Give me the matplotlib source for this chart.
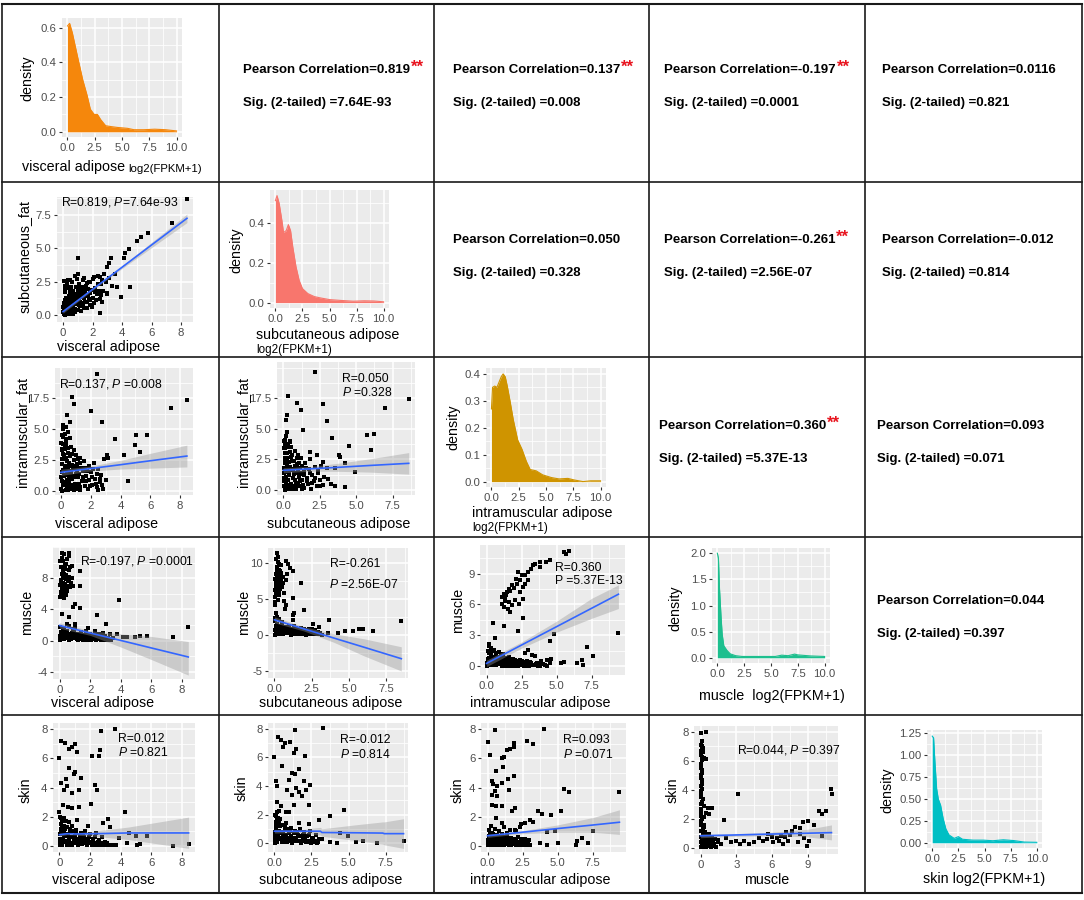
import numpy as np
import matplotlib.pyplot as plt
from matplotlib.lines import Line2D
from matplotlib.ticker import AutoMinorLocator

plt.rcParams['font.family'] = ['Liberation Sans', 'DejaVu Sans']
plt.rcParams['mathtext.fontset'] = 'custom'
plt.rcParams['mathtext.rm'] = 'Liberation Sans'
plt.rcParams['mathtext.it'] = 'Liberation Sans:italic'

W, H = 1084, 900

# ---------------- data ----------------
# density curves (x in log2(FPKM+1), y density)
vis_dx = [0, 0.2, 0.45, 0.9, 1.4, 1.8, 2.1, 2.45, 2.75, 3.05, 3.5, 4.0, 4.6, 5.5, 6.1, 7.0, 8.0, 9.0, 10.0]
vis_dy = [0.61, 0.625, 0.57, 0.44, 0.30, 0.21, 0.13, 0.10, 0.10, 0.07, 0.035, 0.03, 0.025, 0.02, 0.012, 0.012, 0.015, 0.012, 0.005]
sub_dx = [0, 0.15, 0.35, 0.6, 0.75, 1.0, 1.2, 1.4, 1.6, 1.9, 2.2, 2.5, 3.0, 3.6, 4.2, 5.0, 6.0, 7.2, 8.2, 9.1, 10.0]
sub_dy = [0.51, 0.535, 0.495, 0.41, 0.35, 0.36, 0.39, 0.36, 0.28, 0.18, 0.11, 0.07, 0.045, 0.03, 0.023, 0.015, 0.011, 0.007, 0.009, 0.008, 0.004]
imf_dx = [0, 0.1, 0.3, 0.5, 0.7, 0.9, 1.07, 1.26, 1.45, 1.7, 2.0, 2.4, 2.8, 3.2, 3.55, 4.1, 4.7, 5.5, 6.2, 7.0, 7.6, 8.4, 9.1, 10.0]
imf_dy = [0.27, 0.35, 0.355, 0.35, 0.37, 0.39, 0.40, 0.39, 0.355, 0.30, 0.23, 0.155, 0.12, 0.075, 0.045, 0.04, 0.025, 0.015, 0.01, 0.012, 0.006, 0.0, 0.003, 0.003]
mus_dx = [0, 0.1, 0.2, 0.35, 0.45, 0.6, 0.9, 1.2, 1.7, 2.3, 3.8, 5.4, 6.0, 6.6, 7.2, 7.5, 8.1, 8.7, 10.0]
mus_dy = [2.0, 1.9, 1.32, 0.76, 0.45, 0.23, 0.14, 0.075, 0.04, 0.025, 0.025, 0.025, 0.05, 0.04, 0.07, 0.055, 0.045, 0.035, 0.025]
skin_dx = [0, 0.13, 0.26, 0.42, 0.58, 0.8, 1.04, 1.3, 1.6, 2.1, 2.5, 2.9, 3.9, 4.9, 5.8, 6.8, 7.8, 8.8, 10.0]
skin_dy = [1.22, 1.2, 0.92, 0.62, 0.50, 0.43, 0.28, 0.16, 0.09, 0.05, 0.07, 0.04, 0.03, 0.03, 0.023, 0.034, 0.025, 0.008, 0.005]

# scatter points (x, y) per panel
s21_pts = [(8.42, 8.7), (7.41, 6.88), (5.74, 6.13), (5.29, 5.88), (5.0, 5.58), (4.48, 4.93), (4.21, 4.63),
           (3.27, 4.3), (0.99, 4.25), (4.14, 4.25), (3.65, 2.13), (4.55, 2.13), (3.92, 1.38), (3.54, 3.08),
           (2.97, 3.63), (3.09, 3.88), (2.52, 2.88), (2.07, 2.88), (1.85, 2.5), (1.4, 2.75), (0.95, 2.68),
           (0.5, 2.63), (0.05, 2.58), (2.52, 0.13), (2.97, 1.63), (2.63, 1.0), (2.3, 1.63), (1.85, 1.13),
           (1.5, 1.88), (1.17, 1.63),
           (0.05, 0.1), (0.1, 0.3), (0.15, 0.6), (0.2, 0.2), (0.25, 0.9), (0.3, 0.45), (0.35, 1.2), (0.4, 0.15),
           (0.45, 0.7), (0.5, 1.5), (0.55, 0.35), (0.6, 1.0), (0.65, 1.8), (0.7, 0.55), (0.75, 1.3), (0.8, 0.2),
           (0.85, 2.1), (0.9, 0.8), (0.95, 1.6), (1.0, 0.4), (1.05, 1.15), (1.1, 2.3), (1.15, 0.65), (1.2, 1.45),
           (1.25, 1.9), (1.3, 0.9), (1.35, 2.6), (1.4, 1.25), (1.45, 0.5), (1.5, 1.7), (1.55, 2.2), (1.6, 1.0),
           (1.7, 1.5), (1.75, 2.5), (1.8, 0.75), (1.9, 1.9), (2.0, 1.3), (2.05, 2.7), (2.1, 0.9), (2.2, 2.0),
           (2.3, 1.55), (2.4, 2.9), (2.5, 1.2), (2.6, 2.3), (2.7, 1.8), (2.8, 3.1), (2.9, 2.5), (3.0, 1.6),
           (3.1, 2.8), (3.3, 2.2), (0.1, 0.0), (0.3, 0.05), (0.5, 0.1), (0.7, 0.05), (0.2, 1.3), (0.4, 2.0),
           (0.1, 2.2), (0.6, 2.5), (0.15, 1.7), (0.8, 2.9), (1.0, 3.1), (0.35, 2.6), (0.05, 0.5), (0.0, 0.25),
           (0.25, 0.05), (0.3, 0.8), (0.55, 1.1), (0.85, 1.2), (0.4, 0.4), (0.65, 0.3), (1.15, 2.0), (1.6, 2.4),
           (0.02, 0.6), (0.08, 0.9), (0.12, 1.1), (0.18, 0.4), (0.22, 0.75), (0.28, 1.0), (0.32, 0.25),
           (0.38, 0.55), (0.42, 1.4), (0.48, 0.85), (0.52, 0.25), (0.58, 0.6), (0.62, 1.3), (0.68, 0.85),
           (0.72, 1.6), (0.78, 0.45), (0.82, 1.1), (0.88, 1.45), (0.92, 0.35), (0.98, 0.95), (1.02, 1.8),
           (1.08, 0.75), (1.12, 1.35), (1.18, 1.0), (1.22, 0.3), (1.28, 1.6), (1.32, 2.1), (1.38, 0.7),
           (1.42, 1.9), (1.48, 1.0), (1.58, 1.4), (1.65, 0.55), (1.68, 1.95), (1.78, 1.2), (1.85, 1.65),
           (1.95, 0.6), (2.15, 1.7), (2.25, 1.1), (2.35, 2.3), (2.45, 1.8), (2.55, 1.5), (2.65, 2.6),
           (0.12, 1.9), (0.28, 2.3), (0.45, 1.8), (0.55, 2.1)]

s31_pts = [(2.44, 9.46), (0.72, 7.63), (0.87, 7.0), (8.45, 7.36), (7.4, 6.68), (2.02, 6.5), (2.78, 5.6),
           (3.65, 4.2), (4.98, 3.72), (5.76, 4.53), (5.02, 4.53), (5.31, 3.18), (4.24, 2.91), (4.53, 0.81),
           (3.09, 2.91), (3.18, 2.7), (0.6, 5.6), (0.38, 6.15), (0.34, 5.2), (0.49, 4.8), (0.16, 5.34),
           (0.02, 0.2), (0.05, 0.8), (0.08, 1.5), (0.1, 2.2), (0.12, 3.0), (0.15, 3.8), (0.05, 4.5), (0.2, 0.5),
           (0.22, 1.2), (0.25, 1.9), (0.28, 2.6), (0.3, 3.4), (0.32, 4.2), (0.35, 0.1), (0.38, 0.9), (0.4, 1.6),
           (0.42, 2.4), (0.45, 3.1), (0.48, 4.8), (0.5, 0.4), (0.55, 1.3), (0.6, 2.0), (0.62, 2.8), (0.65, 3.6),
           (0.7, 0.2), (0.75, 1.0), (0.8, 1.8), (0.85, 2.5), (0.9, 3.3), (0.95, 0.6), (1.0, 1.4), (1.05, 2.2),
           (1.1, 0.3), (1.15, 1.1), (1.2, 1.9), (1.25, 2.7), (1.3, 0.1), (1.4, 0.8), (1.5, 1.6), (1.55, 2.4),
           (1.6, 0.4), (1.7, 1.2), (1.8, 0.2), (1.85, 2.0), (1.9, 0.9), (2.0, 1.5), (2.1, 0.5), (2.2, 2.3),
           (2.3, 1.0), (2.4, 0.3), (2.5, 1.8), (2.6, 0.7), (2.7, 1.3), (2.8, 0.2), (2.9, 2.6), (3.0, 0.9),
           (0.15, 5.0), (0.25, 4.6), (0.6, 4.3), (0.1, 0.0), (0.5, 0.05), (0.9, 0.1), (1.2, 0.5), (2.5, 0.05),
           (0.18, 2.9), (0.35, 3.7), (0.7, 1.5), (1.0, 2.9), (1.3, 2.3), (0.08, 3.4), (0.55, 0.7), (1.6, 1.9),
           (0.03, 1.1), (0.06, 2.6), (0.09, 3.3), (0.13, 0.5), (0.17, 1.7), (0.21, 2.9), (0.24, 3.6), (0.27, 0.7),
           (0.31, 2.0), (0.34, 1.3), (0.37, 2.7), (0.41, 0.3), (0.44, 1.9), (0.47, 3.5), (0.52, 1.0), (0.57, 2.3),
           (0.63, 1.6), (0.67, 0.5), (0.72, 2.1), (0.77, 3.0), (0.82, 1.2), (0.87, 0.4), (0.92, 2.0), (0.97, 1.1),
           (1.02, 0.2), (1.07, 1.7), (1.12, 2.6), (1.17, 0.6), (1.22, 1.4), (1.28, 0.3), (1.35, 1.9), (1.45, 1.1),
           (1.65, 0.8), (1.75, 1.6), (1.95, 0.4), (2.05, 1.1), (2.15, 1.8), (2.35, 0.6), (2.45, 1.4), (2.65, 1.0),
           (2.75, 0.5), (0.02, 3.9), (0.12, 4.4), (0.35, 4.0)]

s32_pts = [(2.17, 9.62), (0.33, 7.71), (0.94, 7.14), (1.23, 6.54), (2.69, 7.03), (6.96, 6.68), (8.6, 7.41),
           (3.0, 5.64), (1.34, 4.9), (3.35, 4.22), (5.71, 4.5), (6.23, 4.6), (5.99, 3.27), (4.53, 3.62),
           (3.82, 2.86), (3.87, 2.72), (3.58, 1.77), (4.25, 2.18), (4.95, 1.44), (4.25, 0.27), (3.58, 0.33),
           (0.28, 6.13), (0.17, 5.72), (0.24, 4.77), (0.09, 3.95), (0.47, 4.0), (1.82, 3.13), (2.29, 2.86),
           (2.69, 2.32), (3.0, 1.77),
           (0.02, 0.3), (0.05, 1.0), (0.08, 1.8), (0.1, 2.6), (0.12, 3.4), (0.05, 4.0), (0.15, 0.1), (0.2, 0.7),
           (0.22, 1.5), (0.25, 2.2), (0.28, 3.0), (0.3, 3.8), (0.35, 0.4), (0.4, 1.2), (0.45, 1.9), (0.5, 2.7),
           (0.55, 3.5), (0.6, 0.2), (0.65, 1.0), (0.7, 1.7), (0.75, 2.4), (0.8, 3.2), (0.85, 0.6), (0.9, 1.4),
           (0.95, 2.1), (1.0, 2.9), (1.05, 0.3), (1.1, 1.1), (1.15, 1.8), (1.2, 2.6), (1.3, 0.8), (1.4, 1.5),
           (1.45, 0.2), (1.5, 2.2), (1.6, 1.0), (1.7, 0.5), (1.75, 1.7), (1.8, 2.5), (1.9, 0.1), (2.0, 1.2),
           (2.1, 0.7), (2.2, 1.9), (2.3, 0.3), (2.4, 1.4), (2.5, 0.8), (2.6, 2.0), (2.7, 0.4), (2.8, 1.1),
           (0.1, 0.0), (0.4, 0.05), (0.9, 0.1), (1.3, 0.05), (0.2, 4.4), (0.45, 3.9), (3.1, 0.9), (3.3, 0.5),
           (0.15, 2.3), (0.35, 1.6), (0.6, 2.9), (1.0, 0.6), (0.7, 0.1), (1.25, 1.3),
           (0.03, 0.7), (0.06, 1.4), (0.09, 2.2), (0.11, 3.0), (0.13, 3.7), (0.17, 0.4), (0.21, 1.1), (0.24, 1.9),
           (0.27, 2.6), (0.32, 0.8), (0.37, 1.5), (0.42, 2.3), (0.47, 3.1), (0.52, 0.5), (0.57, 1.6), (0.62, 2.4),
           (0.67, 0.3), (0.72, 1.3), (0.77, 2.0), (0.82, 0.8), (0.87, 1.8), (0.92, 2.6), (0.97, 0.4), (1.02, 1.5),
           (1.07, 2.2), (1.12, 0.7), (1.17, 1.4), (1.25, 2.0), (1.35, 0.4), (1.45, 1.2), (1.55, 1.8), (1.65, 0.7),
           (1.85, 1.4), (1.95, 0.6), (2.15, 1.0), (2.35, 1.6), (2.55, 0.3), (0.05, 3.4), (0.25, 3.5), (0.15, 4.1)]

s41_pts = [(0.15, 11.17), (0.3, 11.04), (0.59, 11.17), (0.65, 10.9), (0.04, 10.17), (0.37, 9.74), (0.81, 9.52),
           (1.31, 8.96), (1.35, 7.01), (0.98, 4.76), (0.87, 4.33), (1.31, 4.2), (0.59, 3.03), (0.15, 3.46),
           (0.48, 2.08), (1.02, 2.08), (2.44, 3.25), (3.86, 5.19), (3.05, 2.08), (1.85, 1.6), (8.43, 1.82),
           (7.45, 0.52), (5.71, 0.65), (5.27, 0.65), (4.95, 0.52), (4.4, 0.52), (4.14, 0.43), (2.83, 0.95),
           (3.31, 0.87), (3.75, 0.87),
           (0.05, 5.6), (0.1, 6.2), (0.15, 6.8), (0.2, 7.4), (0.25, 8.0), (0.3, 8.6), (0.35, 9.2), (0.4, 9.8),
           (0.05, 7.1), (0.1, 7.8), (0.15, 8.5), (0.2, 9.1), (0.25, 6.0), (0.3, 6.6), (0.35, 7.2), (0.4, 7.9),
           (0.45, 8.4), (0.5, 6.4), (0.55, 7.0), (0.6, 7.6), (0.65, 8.2), (0.7, 6.9), (0.75, 7.4), (0.8, 8.0),
           (0.45, 5.8), (0.6, 9.0), (0.5, 10.4), (0.2, 10.2), (0.1, 9.5), (0.7, 9.4), (0.85, 7.0), (0.3, 5.5),
           (0.05, 0.05), (0.1, 0.4), (0.15, 0.9), (0.2, 1.4), (0.3, 0.2), (0.4, 0.7), (0.5, 1.2), (0.6, 0.1),
           (0.7, 0.5), (0.8, 1.0), (0.9, 1.5), (1.0, 0.3), (1.1, 0.8), (1.2, 0.05), (1.3, 0.6), (1.4, 1.1),
           (1.5, 0.2), (1.6, 0.7), (1.7, 1.3), (1.8, 0.1), (1.9, 0.5), (2.0, 0.9), (2.1, 0.2), (2.2, 0.6),
           (2.3, 1.2), (2.4, 0.05), (2.5, 0.4), (2.6, 0.8), (2.7, 0.1), (2.8, 0.5), (2.9, 0.2), (3.0, 0.6),
           (3.1, 0.05), (3.2, 0.3), (3.4, 0.1), (3.5, 0.4), (0.05, 1.8), (0.3, 1.6), (0.6, 1.9), (1.0, 1.7),
           (0.02, 0.6), (0.08, 1.1), (0.12, 0.2), (0.18, 0.6), (0.25, 1.1), (0.35, 0.4), (0.45, 0.9), (0.55, 0.3),
           (0.65, 0.8), (0.75, 0.2), (0.85, 0.6), (0.95, 1.1), (1.05, 0.5), (1.15, 0.2), (1.25, 0.9), (1.35, 0.4),
           (1.45, 0.7), (1.55, 0.1), (1.65, 0.4), (1.75, 0.8), (1.85, 0.3), (1.95, 0.6), (2.05, 0.1), (2.15, 0.5),
           (2.25, 0.3), (2.35, 0.7), (2.45, 0.2), (2.55, 0.6), (2.65, 0.3), (2.75, 0.4), (2.85, 0.1), (2.95, 0.3),
           (3.05, 0.4), (3.3, 0.2), (0.1, 5.9), (0.2, 6.5), (0.3, 7.0), (0.12, 7.5), (0.22, 8.2), (0.35, 8.0),
           (0.42, 6.8), (0.52, 7.7), (0.28, 9.4), (0.15, 10.6)]

s42_pts = [(0.18, 11.27), (0.78, 10.23), (0.94, 9.77), (1.07, 9.3), (1.23, 8.83), (0.85, 8.36), (0.78, 7.65),
           (1.79, 7.18), (0.63, 5.77), (1.23, 5.16), (0.67, 4.74), (0.78, 4.13), (0.72, 3.57), (1.34, 3.1),
           (1.23, 2.82), (2.01, 3.43), (1.23, 2.02), (0.04, 4.13), (0.04, 2.35), (3.69, 2.02), (2.57, 1.55),
           (3.02, 1.08), (4.7, 0.61), (5.26, 0.61), (5.7, 0.85), (5.93, 0.85), (6.6, 0.61), (8.5, 1.88),
           (4.25, 0.23), (3.58, 0.28),
           (0.02, 4.5), (0.05, 5.2), (0.08, 5.9), (0.1, 6.6), (0.12, 7.3), (0.15, 8.0), (0.18, 8.7), (0.2, 9.4),
           (0.22, 10.1), (0.25, 10.8), (0.05, 7.7), (0.1, 8.4), (0.15, 9.1), (0.2, 6.1), (0.25, 6.8), (0.3, 7.5),
           (0.35, 8.2), (0.4, 8.9), (0.3, 5.5), (0.35, 6.3), (0.4, 7.1), (0.45, 7.8), (0.5, 6.6), (0.45, 9.6),
           (0.1, 10.5), (0.55, 8.0), (0.6, 7.2), (0.25, 4.8),
           (0.05, 0.05), (0.1, 0.5), (0.15, 1.0), (0.2, 1.5), (0.3, 0.2), (0.4, 0.8), (0.5, 1.3), (0.6, 0.1),
           (0.7, 0.6), (0.8, 1.1), (0.9, 0.3), (1.0, 0.9), (1.1, 0.05), (1.2, 0.5), (1.3, 1.2), (1.4, 0.2),
           (1.5, 0.7), (1.6, 0.1), (1.7, 0.4), (1.8, 1.0), (1.9, 0.2), (2.0, 0.6), (2.1, 0.05), (2.2, 0.4),
           (2.3, 0.9), (2.4, 0.1), (2.5, 0.5), (2.6, 0.2), (2.7, 0.7), (2.8, 0.1), (2.9, 0.4), (3.0, 0.2),
           (3.2, 0.05), (0.05, 2.0), (0.2, 2.5), (0.1, 3.0), (0.5, 1.8), (0.3, 2.2),
           (0.02, 0.7), (0.08, 1.2), (0.12, 0.2), (0.18, 0.7), (0.25, 1.2), (0.35, 0.5), (0.45, 1.0), (0.55, 0.3),
           (0.65, 0.9), (0.75, 0.3), (0.85, 0.7), (0.95, 1.2), (1.05, 0.5), (1.15, 0.2), (1.25, 0.8), (1.35, 0.4),
           (1.45, 1.0), (1.55, 0.3), (1.65, 0.7), (1.75, 0.2), (1.85, 0.5), (1.95, 0.9), (2.05, 0.3), (2.15, 0.7),
           (2.25, 0.2), (2.35, 0.5), (2.45, 0.3), (2.55, 0.8), (2.65, 0.4), (2.75, 0.2), (2.85, 0.5), (3.05, 0.3),
           (0.07, 6.2), (0.13, 6.9), (0.17, 7.6), (0.22, 8.4), (0.28, 9.0), (0.33, 9.8), (0.38, 7.0), (0.28, 6.0),
           (0.12, 5.5), (0.42, 8.5)]

s43_pts = [(5.89, 11.2), (5.54, 11.1), (5.65, 10.94), (4.49, 10.29), (4.25, 10.13), (3.79, 10.13), (3.43, 9.97),
           (3.32, 9.81), (3.2, 9.48), (3.79, 9.64), (2.97, 9.16), (2.27, 9.16), (2.73, 8.83), (2.38, 8.35),
           (2.15, 8.03), (1.8, 7.86), (1.57, 7.54), (1.21, 7.06), (1.45, 7.22), (1.1, 6.73), (1.33, 6.57),
           (1.1, 6.08), (1.21, 5.76), (1.5, 5.6), (1.8, 5.92), (2.03, 6.41), (2.38, 7.22), (2.62, 7.7),
           (2.73, 8.03), (2.97, 8.35), (2.62, 6.57), (2.62, 4.69), (2.34, 6.08), (1.68, 5.27), (0.47, 4.21),
           (1.21, 3.88), (2.27, 3.4), (0.63, 2.69), (0.16, 2.1), (4.84, 3.11), (4.49, 2.43), (9.39, 3.24),
           (7.17, 1.88), (7.57, 0.97), (6.82, 0.58), (6.47, 0.32), (6.89, 0.1), (5.54, 0.42), (5.3, 0.32),
           (4.3, 0.58), (4.6, 0.65), (3.9, 0.52), (3.43, 0.97), (2.97, 1.55), (2.73, 1.29), (3.27, 1.07),
           (1.4, 6.9), (1.65, 7.3), (1.95, 7.6), (1.3, 6.3), (1.6, 6.2), (2.1, 8.5), (2.5, 8.9),
           (0.05, 0.05), (0.1, 0.4), (0.2, 0.8), (0.3, 1.2), (0.4, 0.1), (0.5, 0.5), (0.6, 0.9), (0.7, 1.3),
           (0.8, 0.2), (0.9, 0.6), (1.0, 1.0), (1.1, 0.05), (1.2, 0.4), (1.3, 0.8), (1.4, 0.15), (1.5, 0.5),
           (1.6, 0.9), (1.7, 0.05), (1.8, 0.3), (1.9, 0.7), (2.0, 0.1), (2.1, 0.45), (2.2, 0.05), (2.3, 0.3),
           (2.4, 0.6), (2.5, 0.1), (2.6, 0.35), (2.7, 0.05), (2.8, 0.2), (2.9, 0.5), (3.0, 0.05), (3.2, 0.25),
           (3.4, 0.1), (3.6, 0.3), (3.8, 0.05), (4.0, 0.2), (4.2, 0.1), (4.5, 0.3), (0.1, 1.5), (0.3, 1.8),
           (0.5, 1.6), (0.2, 2.0), (0.9, 1.4), (1.2, 1.2),
           (0.02, 0.3), (0.08, 0.7), (0.15, 0.1), (0.25, 0.5), (0.35, 0.9), (0.45, 0.3), (0.55, 0.7), (0.65, 0.1),
           (0.75, 0.5), (0.85, 0.9), (0.95, 0.3), (1.05, 0.7), (1.15, 0.2), (1.25, 0.6), (1.35, 0.05), (1.45, 0.4),
           (1.55, 0.7), (1.65, 0.2), (1.75, 0.5), (1.85, 0.05), (1.95, 0.3), (2.05, 0.6), (2.15, 0.2), (2.25, 0.05),
           (2.35, 0.4), (2.45, 0.2), (2.55, 0.5), (2.65, 0.15), (2.75, 0.3), (2.85, 0.05), (2.95, 0.2), (3.1, 0.4),
           (3.3, 0.1), (3.5, 0.2), (3.7, 0.05), (3.9, 0.3), (4.3, 0.05), (0.2, 1.3), (0.4, 1.5), (0.7, 1.1)]

s51_pts = [(3.64, 8.0), (2.69, 7.88), (0.11, 7.18), (0.38, 7.06), (1.01, 6.95), (0.8, 6.76), (1.12, 6.41),
           (0.63, 6.64), (2.12, 6.18), (2.65, 6.53), (2.6, 6.18), (0.0, 6.01), (0.63, 5.36), (0.95, 4.9),
           (1.0, 5.06), (0.42, 4.55), (1.42, 4.66), (0.11, 4.31), (0.47, 4.08), (0.32, 3.85), (0.8, 3.61),
           (1.27, 3.85), (2.33, 4.2), (2.43, 3.8), (0.21, 2.8), (0.53, 2.68), (0.85, 2.63), (1.27, 2.68),
           (2.07, 2.87), (0.0, 2.33), (4.28, 2.33), (3.17, 1.86), (2.86, 1.56), (1.9, 1.4), (1.16, 1.79),
           (0.63, 1.68), (3.28, 1.28), (4.55, 0.93), (3.92, 0.58), (4.44, 0.23), (5.04, 0.7), (5.71, 0.7),
           (5.29, 0.16), (5.08, 0.07), (7.41, 0.0), (8.47, 0.16),
           (0.02, 0.05), (0.05, 0.5), (0.08, 1.0), (0.1, 1.5), (0.12, 1.9), (0.2, 0.2), (0.3, 0.7), (0.35, 1.2),
           (0.4, 1.7), (0.5, 0.1), (0.6, 0.5), (0.7, 1.0), (0.8, 1.4), (0.9, 0.2), (1.0, 0.7), (1.1, 1.1),
           (1.2, 0.05), (1.3, 0.4), (1.4, 0.9), (1.5, 0.15), (1.6, 0.6), (1.7, 1.0), (1.8, 0.05), (1.9, 0.4),
           (2.0, 0.8), (2.1, 0.1), (2.2, 0.5), (2.3, 0.2), (2.4, 0.9), (2.5, 0.05), (2.6, 0.4), (2.7, 0.1),
           (2.8, 0.6), (2.9, 0.05), (3.0, 0.3), (3.2, 0.1), (3.4, 0.05), (3.6, 0.08), (3.7, 0.05), (0.05, 2.0),
           (0.3, 1.9), (0.2, 1.4), (0.15, 0.45), (0.45, 0.35), (0.75, 0.15), (1.05, 0.35), (1.35, 0.15),
           (0.03, 0.3), (0.07, 0.8), (0.1, 1.2), (0.15, 1.7), (0.18, 0.1), (0.25, 0.5), (0.28, 0.9), (0.33, 1.4),
           (0.38, 0.3), (0.42, 0.8), (0.48, 1.3), (0.55, 0.1), (0.58, 0.7), (0.65, 0.3), (0.72, 1.2), (0.78, 0.6),
           (0.85, 0.1), (0.88, 1.0), (0.95, 0.4), (1.02, 0.2), (1.08, 0.9), (1.15, 0.5), (1.25, 0.2), (1.32, 0.7),
           (1.45, 0.4), (1.55, 0.8), (1.65, 0.2), (1.75, 0.5), (1.85, 0.2), (1.95, 0.6), (2.05, 0.3), (2.25, 0.1),
           (2.35, 0.6), (2.55, 0.3), (2.75, 0.2), (2.95, 0.1), (3.1, 0.2), (3.3, 0.05), (3.5, 0.1)]

s52_pts = [(3.25, 8.05), (1.39, 7.93), (0.22, 7.45), (0.44, 7.21), (0.73, 6.97), (1.04, 7.09), (0.6, 6.73),
           (1.43, 6.61), (1.32, 6.3), (0.0, 6.06), (2.05, 6.13), (0.51, 5.41), (1.66, 5.17), (1.21, 4.93),
           (1.39, 4.81), (0.11, 4.33), (0.99, 4.45), (1.99, 4.33), (2.43, 4.09), (0.15, 3.97), (0.88, 3.73),
           (1.43, 3.89), (1.66, 3.61), (2.1, 3.73), (1.21, 3.37), (1.88, 3.29), (0.15, 2.88), (0.44, 2.64),
           (1.32, 2.69), (0.33, 2.28), (0.77, 2.16), (0.99, 2.16), (2.32, 2.69), (3.75, 1.92), (4.7, 2.33),
           (2.98, 1.63), (2.32, 1.32), (1.66, 1.44), (4.42, 0.72), (4.97, 0.53), (5.52, 0.07), (5.96, 0.17),
           (6.91, 0.0), (8.72, 0.17), (4.19, 0.05), (3.2, 0.29), (3.75, 0.12),
           (0.02, 0.05), (0.05, 0.5), (0.08, 1.0), (0.1, 1.5), (0.12, 1.9), (0.2, 0.2), (0.3, 0.7), (0.35, 1.2),
           (0.4, 1.7), (0.5, 0.1), (0.6, 0.6), (0.7, 1.0), (0.8, 1.4), (0.9, 0.2), (1.0, 0.7), (1.1, 1.1),
           (1.2, 0.05), (1.3, 0.4), (1.4, 0.9), (1.5, 0.15), (1.6, 0.6), (1.7, 1.0), (1.8, 0.05), (1.9, 0.4),
           (2.0, 0.8), (2.1, 0.1), (2.2, 0.5), (2.3, 0.2), (2.4, 0.9), (2.5, 0.05), (2.6, 0.4), (2.7, 0.1),
           (2.8, 0.6), (2.9, 0.05), (3.0, 0.3), (0.05, 2.0), (0.25, 1.8), (0.15, 2.2), (0.15, 0.45),
           (0.45, 0.35), (0.75, 0.15), (1.05, 0.35), (1.35, 0.15),
           (0.03, 0.3), (0.07, 0.8), (0.1, 1.2), (0.15, 1.7), (0.18, 0.1), (0.25, 0.5), (0.28, 0.9), (0.33, 1.4),
           (0.38, 0.3), (0.42, 0.8), (0.48, 1.3), (0.55, 0.1), (0.58, 0.7), (0.65, 0.3), (0.72, 1.2), (0.78, 0.6),
           (0.85, 0.1), (0.88, 1.0), (0.95, 0.4), (1.02, 0.2), (1.08, 0.9), (1.15, 0.5), (1.25, 0.2), (1.32, 0.7),
           (1.45, 0.4), (1.55, 0.8), (1.65, 0.2), (1.75, 0.5), (1.85, 0.2), (1.95, 0.6), (2.05, 0.3), (2.25, 0.1),
           (2.35, 0.6), (2.55, 0.3), (2.75, 0.2), (2.95, 0.1)]

s53_pts = [(0.51, 7.89), (4.03, 8.0), (2.84, 7.2), (3.26, 6.97), (0.05, 7.08), (1.91, 7.01), (1.86, 6.78),
           (1.63, 6.62), (1.4, 6.55), (1.17, 6.09), (1.05, 6.0), (0.19, 6.21), (1.12, 5.4), (0.58, 5.13),
           (0.28, 4.44), (0.42, 4.21), (0.7, 4.09), (1.05, 4.32), (1.45, 4.55), (1.86, 4.78), (1.56, 3.86),
           (0.51, 3.75), (0.28, 3.52), (0.65, 3.4), (5.48, 3.93), (5.83, 3.68), (9.37, 3.68), (0.28, 2.83),
           (0.58, 2.71), (1.05, 2.71), (1.75, 2.37), (1.98, 2.6), (3.61, 2.37), (3.85, 2.18), (4.55, 2.14),
           (5.24, 2.37), (3.03, 1.79), (3.26, 1.63), (2.68, 1.56), (2.33, 1.33), (1.98, 1.1), (4.27, 0.99),
           (4.78, 1.03), (7.51, 1.03), (6.41, 0.34), (6.76, 0.53), (7.18, 0.23), (6.29, 0.11), (5.01, 0.18),
           (4.24, 0.11), (3.73, 0.18),
           (0.02, 0.05), (0.05, 0.4), (0.1, 0.7), (0.2, 0.2), (0.3, 0.5), (0.4, 0.05), (0.5, 0.35), (0.6, 0.65),
           (0.7, 0.15), (0.8, 0.45), (0.9, 0.05), (1.0, 0.3), (1.1, 0.6), (1.2, 0.1), (1.3, 0.4), (1.4, 0.7),
           (1.5, 0.05), (1.6, 0.3), (1.7, 0.55), (1.8, 0.15), (1.9, 0.4), (2.0, 0.05), (2.1, 0.3), (2.2, 0.6),
           (2.3, 0.1), (2.4, 0.35), (2.5, 0.05), (2.6, 0.25), (2.7, 0.5), (2.8, 0.1), (2.9, 0.3), (3.0, 0.05),
           (0.1, 1.1), (0.3, 0.9), (0.5, 1.2), (0.8, 1.0), (0.25, 1.4), (1.2, 1.3), (1.6, 1.1), (2.0, 1.0),
           (2.4, 1.5), (1.0, 1.6), (0.6, 1.9),
           (0.03, 0.2), (0.08, 0.55), (0.15, 0.05), (0.25, 0.35), (0.35, 0.7), (0.45, 0.2), (0.55, 0.5), (0.65, 0.05),
           (0.75, 0.3), (0.85, 0.65), (0.95, 0.2), (1.05, 0.5), (1.15, 0.05), (1.25, 0.25), (1.35, 0.55), (1.45, 0.15),
           (1.55, 0.4), (1.65, 0.05), (1.75, 0.25), (1.85, 0.5), (1.95, 0.15), (2.05, 0.4), (2.15, 0.05), (2.25, 0.25),
           (2.35, 0.5), (2.45, 0.15), (2.55, 0.4), (2.65, 0.05), (2.75, 0.3), (2.85, 0.15), (2.95, 0.45), (0.15, 0.9),
           (0.4, 0.85), (0.7, 0.75), (1.0, 0.85), (1.4, 0.9)]

s54_pts = [(0.0, 7.89), (0.47, 8.0), (0.06, 7.1), (0.11, 6.87), (0.19, 6.64), (0.06, 6.42), (0.33, 6.19),
           (0.11, 6.08), (0.44, 6.12), (0.06, 5.51), (0.11, 5.17), (0.06, 4.83), (0.14, 4.6), (0.06, 4.26),
           (0.11, 4.04), (0.06, 3.7), (0.19, 3.36), (0.06, 3.02), (0.0, 2.68), (0.33, 2.9), (0.66, 2.74),
           (0.94, 2.74), (0.47, 2.45), (0.74, 2.34), (0.33, 2.11), (0.06, 1.88), (1.93, 1.93), (3.17, 3.7),
           (0.33, 1.43),
           (10.94, 4.04), (11.02, 3.74), (9.92, 2.56), (10.19, 2.38), (10.58, 2.56), (9.01, 1.88), (9.56, 1.61),
           (8.6, 1.77), (8.32, 1.38), (7.91, 1.43), (7.71, 1.2), (7.22, 1.09), (7.49, 0.93), (7.08, 0.75),
           (6.8, 0.86), (6.39, 0.7), (5.98, 0.79), (5.56, 0.63), (5.23, 0.52), (4.88, 0.7), (4.46, 0.41),
           (4.05, 0.29), (3.64, 0.48), (3.31, 0.29), (2.95, 0.52), (2.53, 0.41), (2.12, 0.7), (1.71, 0.29),
           (1.43, 0.57), (1.02, 0.34), (9.15, 0.52), (8.73, 0.7), (8.18, 0.41), (8.93, 0.18), (10.19, 0.86),
           (8.32, 0.98), (7.36, 0.52), (6.94, 0.29), (6.61, 0.48), (6.12, 0.41), (5.7, 0.98),
           (0.02, 0.05), (0.1, 0.3), (0.2, 0.6), (0.3, 0.9), (0.05, 1.2), (0.15, 0.15), (0.25, 0.45), (0.35, 0.75),
           (0.45, 0.05), (0.5, 0.4), (0.6, 0.7), (0.7, 0.2), (0.8, 0.5), (0.9, 0.1), (1.0, 0.8), (1.1, 0.3),
           (0.4, 1.1), (0.7, 1.0), (1.2, 0.6), (1.3, 0.1), (1.5, 0.45), (0.08, 1.6), (0.02, 2.2), (0.12, 2.0),
           (0.05, 0.8), (0.06, 3.5), (0.1, 4.4), (0.04, 5.0), (0.08, 5.8), (0.15, 7.0), (0.1, 7.4), (0.2, 6.9),
           (0.12, 6.3), (0.03, 3.9),
           (0.05, 0.45), (0.12, 0.7), (0.18, 0.95), (0.22, 0.3), (0.28, 0.1), (0.32, 0.55), (0.38, 0.2), (0.42, 0.8),
           (0.48, 0.6), (0.55, 0.15), (0.58, 0.95), (0.65, 0.45), (0.75, 0.7), (0.85, 0.3), (0.95, 0.55), (1.05, 0.15),
           (0.1, 0.05), (0.2, 1.3), (0.3, 1.6), (0.05, 2.5), (0.15, 3.2), (0.09, 4.7), (0.13, 5.4), (0.07, 6.7)]

# fitted line with confidence band (x, fit, lower, upper)
s21_fit = ([0, 2, 4, 6, 8.4], [0.25, 1.92, 3.58, 5.25, 7.25], [0.13, 1.85, 3.48, 5.05, 6.93], [0.37, 1.99, 3.68, 5.45, 7.57])
s31_fit = ([0, 2, 4, 6, 8.45], [1.51, 1.82, 2.13, 2.45, 2.83], [1.26, 1.62, 1.78, 1.85, 1.95], [1.76, 2.02, 2.48, 3.05, 3.71])
s32_fit = ([0, 2, 4, 6, 8.6], [1.61, 1.74, 1.87, 2.01, 2.18], [1.41, 1.54, 1.52, 1.46, 1.3], [1.81, 1.94, 2.22, 2.56, 3.06])
s41_fit = ([0, 2, 4, 6, 8.43], [1.95, 0.99, 0.04, -0.92, -2.08], [1.6, 0.69, -0.8, -2.4, -4.4], [2.3, 1.29, 0.88, 0.55, -0.1])
s42_fit = ([0, 2, 4, 6, 8.5], [2.11, 0.85, -0.41, -1.66, -3.24], [1.7, 0.55, -1.0, -2.85, -4.93], [2.52, 1.15, 0.18, -0.5, -1.6])
s43_fit = ([0, 2.5, 5, 7.5, 9.4], [0.26, 2.05, 3.84, 5.63, 6.99], [-0.05, 1.75, 3.3, 4.65, 5.6], [0.57, 2.35, 4.38, 6.6, 7.9])
s51_fit = ([0, 0.5, 1.0, 2.5, 4.5, 8.45], [0.78, 0.85, 0.83, 0.85, 0.9, 0.9],
           [0.68, 0.78, 0.76, 0.65, 0.45, -0.15], [0.88, 0.92, 0.9, 1.05, 1.3, 1.98])
s52_fit = ([0, 1.5, 3.1, 3.2, 5.5, 7.3, 7.4, 8.7], [0.85, 0.85, 0.85, 0.76, 0.74, 0.72, 0.68, 0.68],
           [0.72, 0.75, 0.58, 0.5, 0.2, -0.05, -0.1, -0.35], [0.98, 0.95, 1.12, 1.02, 1.3, 1.5, 1.5, 1.72])
s53_fit = ([0, 2.5, 5, 7.5, 9.4], [0.71, 0.95, 1.2, 1.44, 1.63], [0.6, 0.85, 0.95, 0.95, 0.8], [0.82, 1.05, 1.45, 1.95, 2.48])
s54_fit = ([0, 3, 6, 9, 11], [0.85, 0.91, 0.97, 1.03, 1.07], [0.72, 0.82, 0.85, 0.78, 0.57], [0.98, 1.0, 1.1, 1.3, 1.6])

# upper-triangle statistics
corr_cells = [
    # (row, col, r text, sig text, starred)
    (0, 1, '0.819', '7.64E-93', True),
    (0, 2, '0.137', '0.008', True),
    (0, 3, '-0.197', '0.0001', True),
    (0, 4, '0.0116', '0.821', False),
    (1, 2, '0.050', '0.328', False),
    (1, 3, '-0.261', '2.56E-07', True),
    (1, 4, '-0.012', '0.814', False),
    (2, 3, '0.360', '5.37E-13', True),
    (2, 4, '0.093', '0.071', False),
    (3, 4, '0.044', '0.397', False),
]

# ---------------- layout ----------------
col_lines = [2, 219, 434, 649, 865, 1082]
row_lines = [4, 182, 357, 537, 715, 893]

fig = plt.figure(figsize=(W / 100, H / 100), dpi=100)
fig.patch.set_facecolor('white')


def fx(x):
    return x / W


def fy(y):
    return 1 - y / H


def gg_axes(box, xlim, ylim, xticks, xlabels, yticks, ylabels):
    l, t, r, b = box
    ax = fig.add_axes([fx(l), fy(b), (r - l) / W, (b - t) / H])
    ax.set_facecolor('#EBEBEB')
    for s in ax.spines.values():
        s.set_visible(False)
    ax.set_xlim(xlim)
    ax.set_ylim(ylim)
    ax.set_xticks(xticks)
    ax.set_xticklabels(xlabels)
    ax.set_yticks(yticks)
    ax.set_yticklabels(ylabels)
    ax.xaxis.set_minor_locator(AutoMinorLocator(2))
    ax.yaxis.set_minor_locator(AutoMinorLocator(2))
    ax.grid(which='major', color='white', lw=1.1)
    ax.grid(which='minor', color='white', lw=0.55)
    ax.set_axisbelow(True)
    ax.tick_params(which='major', length=2.5, width=0.8, color='#333333',
                   labelcolor='#4D4D4D', labelsize=8.2, pad=1.5)
    ax.tick_params(which='minor', length=0)
    return ax


def density(box, xs, ys, color, ylim, yticks, ylabels):
    ax = gg_axes(box, (-0.5, 10.5), ylim, [0, 2.5, 5, 7.5, 10],
                 ['0.0', '2.5', '5.0', '7.5', '10.0'], yticks, ylabels)
    ax.fill_between(xs, 0, ys, color=color, lw=0)
    ax.plot(xs, ys, color=color, lw=0.8)
    return ax


def scatter(box, pts, fit, xlim, ylim, xticks, xlabels, yticks, ylabels):
    ax = gg_axes(box, xlim, ylim, xticks, xlabels, yticks, ylabels)
    px, py = np.array(pts).T
    ax.scatter(px, py, marker='s', s=9.5, c='black', lw=0, zorder=2)
    fxs, fit_y, lo, hi = fit
    ax.fill_between(fxs, lo, hi, color='#999999', alpha=0.4, lw=0, zorder=3)
    ax.plot(fxs, fit_y, color='#3366FF', lw=1.2, zorder=4)
    return ax


def ylab(text, x, y):
    fig.text(fx(x), fy(y), text, rotation=90, ha='center', va='center', size=10.3)


def xlab(text, x, y, size=10.3, ha='center'):
    fig.text(fx(x), fy(y), text, ha=ha, va='center', size=size)


def note(text, x, y):
    fig.text(fx(x), fy(y), text, ha='left', va='center', size=8.7)


x_int = [0, 2, 4, 6, 8]
x_int_l = ['0', '2', '4', '6', '8']
x_q = [0, 2.5, 5, 7.5]
x_q_l = ['0.0', '2.5', '5.0', '7.5']
y_imf = [0, 2.5, 5, 7.5]
y_imf_l = ['0.0', '2.5', '5.0', '17.5']
y_skin = [0, 2, 4, 6, 8]
y_skin_l = ['0', '2', '4', '6', '8']

# diagonal densities
density((62, 18, 182, 137), vis_dx, vis_dy, '#F5870C', (-0.03, 0.656),
        [0, 0.2, 0.4, 0.6], ['0.0', '0.2', '0.4', '0.6'])
ylab('density', 27, 78)
xlab('visceral adipose', 22, 167, ha='left')
xlab('log2(FPKM+1)', 128, 169, size=8.2, ha='left')

density((270, 190, 389, 308), sub_dx, sub_dy, '#F8766D', (-0.027, 0.563),
        [0, 0.2, 0.4], ['0.0', '0.2', '0.4'])
ylab('density', 236, 250)
xlab('subcutaneous adipose', 256, 335, ha='left')
xlab('log2(FPKM+1)', 256, 350, size=8.4, ha='left')

density((486, 368, 606, 487), imf_dx, imf_dy, '#CF9400', (-0.02, 0.422),
        [0, 0.1, 0.2, 0.3, 0.4], ['0.0', '0.1', '0.2', '0.3', '0.4'])
ylab('density', 453, 427)
xlab('intramuscular adipose', 472, 513, ha='left')
xlab('log2(FPKM+1)', 472, 528, size=8.4, ha='left')

density((712, 548, 830, 663), mus_dx, mus_dy, '#1DBF8E', (-0.1, 2.1),
        [0, 0.5, 1.0, 1.5, 2.0], ['0.0', '0.5', '1.0', '1.5', '2.0'])
ylab('density', 675, 608)
xlab('muscle  log2(FPKM+1)', 699, 696, ha='left')

density((927, 730, 1042, 848), skin_dx, skin_dy, '#00BFC4', (-0.06, 1.29),
        [0, 0.25, 0.5, 0.75, 1.0, 1.25], ['0.00', '0.25', '0.50', '0.75', '1.00', '1.25'])
ylab('density', 887, 790)
xlab('skin log2(FPKM+1)', 923, 879, ha='left')

# lower-triangle scatter plots
scatter((57, 197, 193, 322), s21_pts, s21_fit, (-0.41, 8.81), (-0.53, 8.85),
        x_int, x_int_l, [0, 2.5, 5, 7.5], ['0.0', '2.5', '5.0', '7.5'])
ylab('subcutaneous_fat', 25, 257)
xlab('visceral adipose', 109, 347)
note('R=0.819, $\\mathit{P}$=7.64e-93', 61, 202)

scatter((55, 368, 193, 495), s31_pts, s31_fit, (-0.4, 8.86), (-0.32, 9.95),
        x_int, x_int_l, y_imf, y_imf_l)
ylab('intramuscular_fat', 22, 432)
xlab('visceral adipose', 107, 524)
note('R=0.137, $\\mathit{P}$ =0.008', 59, 384)

scatter((277, 362, 415, 495), s32_pts, s32_fit, (-0.43, 9.03), (-0.41, 10.47),
        x_q, x_q_l, y_imf, y_imf_l)
ylab('intramuscular_fat', 243, 432)
xlab('subcutaneous adipose', 339, 524)
note('R=0.050', 342, 379)
note('$\\mathit{P}$ =0.328', 342, 393)

scatter((53, 547, 195, 679), s41_pts, s41_fit, (-0.43, 8.87), (-4.9, 12.0),
        x_int, x_int_l, [-4, 0, 4, 8], ['-4', '0', '4', '8'])
ylab('muscle', 27, 612)
xlab('visceral adipose', 103, 703)
note('R=-0.197, $\\mathit{P}$ =0.0001', 80, 561)

scatter((268, 548, 408, 678), s42_pts, s42_fit, (-0.43, 8.95), (-5.9, 12.0),
        x_q, x_q_l, [-5, 0, 5, 10], ['-5', '0', '5', '10'])
ylab('muscle', 244, 612)
xlab('subcutaneous adipose', 331, 703)
note('R=-0.261', 330, 564)
note('$\\mathit{P}$ =2.56E-07', 329, 584)

scatter((480, 545, 625, 675), s43_pts, s43_fit, (-0.47, 9.87), (-0.87, 11.78),
        x_q, x_q_l, [0, 3, 6, 9], ['0', '3', '6', '9'])
ylab('muscle', 458, 610)
xlab('intramuscular adipose', 540, 703)
note('R=0.360', 555, 568)
note('P =5.37E-13', 555, 581)

scatter((53, 723, 195, 852), s51_pts, s51_fit, (-0.42, 8.87), (-0.4, 8.4),
        x_int, x_int_l, y_skin, y_skin_l)
ylab('skin', 26, 790)
xlab('visceral adipose', 104, 880)
note('R=0.012', 118, 739)
note('$\\mathit{P}$ =0.821', 118, 753)

scatter((268, 723, 408, 852), s52_pts, s52_fit, (-0.43, 9.0), (-0.6, 8.4),
        x_q, x_q_l, y_skin, y_skin_l)
ylab('skin', 242, 788)
xlab('subcutaneous adipose', 331, 880)
note('R=-0.012', 340, 740)
note('$\\mathit{P}$ =0.814', 340, 754)

scatter((481, 723, 626, 852), s53_pts, s53_fit, (-0.47, 9.87), (-0.4, 8.4),
        x_q, x_q_l, y_skin, y_skin_l)
ylab('skin', 458, 790)
xlab('intramuscular adipose', 540, 880)
note('R=0.093', 563, 740)
note('$\\mathit{P}$ =0.071', 563, 754)

scatter((694, 726, 838, 854), s54_pts, s54_fit, (-0.55, 11.55), (-0.4, 8.4),
        [0, 3, 6, 9], ['0', '3', '6', '9'], y_skin, y_skin_l)
ylab('skin', 673, 790)
xlab('muscle', 767, 880)
note('R=0.044, $\\mathit{P}$ =0.397', 737, 750)

# upper-triangle text cells
text_left = {1: 243, 2: 453, 3: 664, 4: 882}
text_row_y = {0: 70, 1: 240, 2: 426, 3: 601}
renderer = fig.canvas.get_renderer()
for row, col, r_txt, p_txt, star in corr_cells:
    x0 = text_left[col] if row < 2 else text_left[col] - 5
    y0 = text_row_y[row]
    t = fig.text(fx(x0), fy(y0), 'Pearson Correlation=' + r_txt, ha='left', va='center',
                 weight='bold', size=9.5)
    fig.text(fx(x0), fy(y0 + 33), 'Sig. (2-tailed) =' + p_txt, ha='left', va='center',
             weight='bold', size=9.5)
    if star:
        bb = t.get_window_extent(renderer)
        fig.text(bb.x1 / W + 0.0008, (bb.y1 + 4) / H, '**', ha='left', va='top',
                 color='#E8141E', weight='bold', size=12)

# table borders
for x in col_lines:
    fig.add_artist(Line2D([fx(x), fx(x)], [fy(row_lines[0]), fy(row_lines[-1])],
                          color='#1A1A1A', lw=1.2))
for y in row_lines:
    fig.add_artist(Line2D([fx(col_lines[0]), fx(col_lines[-1])], [fy(y), fy(y)],
                          color='#1A1A1A', lw=1.5 if y in (row_lines[0], row_lines[-1]) else 1.2))

fig.savefig('out.png', dpi=100)
